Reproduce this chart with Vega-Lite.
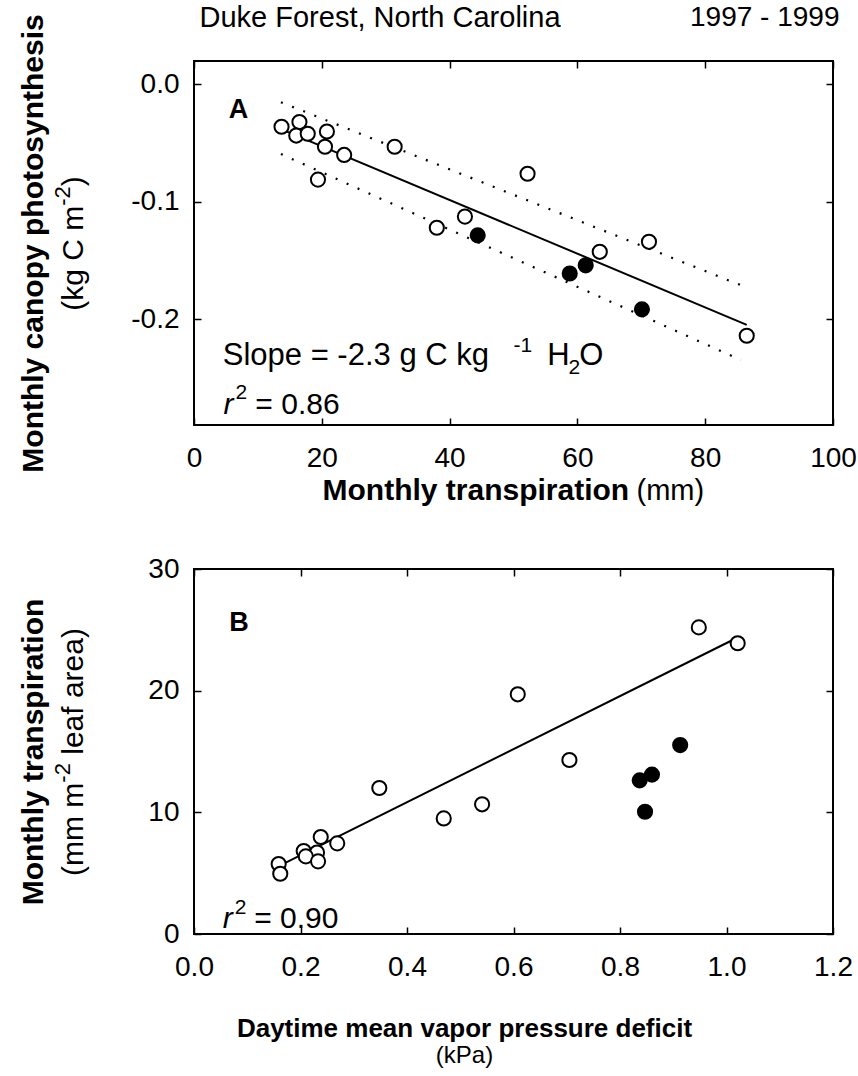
{
  "$schema": "https://vega.github.io/schema/vega-lite/v6.json",
  "padding": {"left": 16, "top": 2, "right": 2, "bottom": 2},
  "spacing": 48,
  "config": {
    "font": "Liberation Sans",
    "view": {"stroke": "black", "strokeWidth": 2},
    "axis": {
      "domain": false, "grid": false,
      "tickColor": "black", "tickWidth": 1.5, "tickSize": -7,
      "labelFontSize": 28, "labelColor": "black", "labelPadding": 22,
      "labelFlush": false, "labelOverlap": false,
      "titleColor": "black", "titleFontSize": 30, "titleFontWeight": "bold",
      "labelFont": "Liberation Sans", "titleFont": "Liberation Sans"
    },
    "text": {"font": "Liberation Sans", "color": "black"}
  },
  "datasets": {
    "aOpen": [
      {"x": 13.7, "y": -0.036}, {"x": 16.5, "y": -0.032}, {"x": 16.0, "y": -0.0435},
      {"x": 17.8, "y": -0.042}, {"x": 20.8, "y": -0.040}, {"x": 20.5, "y": -0.053},
      {"x": 23.5, "y": -0.060}, {"x": 19.4, "y": -0.081}, {"x": 31.4, "y": -0.053},
      {"x": 52.2, "y": -0.076}, {"x": 38.0, "y": -0.122}, {"x": 42.4, "y": -0.1125},
      {"x": 63.5, "y": -0.1425}, {"x": 71.2, "y": -0.134}, {"x": 86.5, "y": -0.214}
    ],
    "aFilled": [
      {"x": 44.4, "y": -0.1285}, {"x": 58.8, "y": -0.161}, {"x": 61.3, "y": -0.154}, {"x": 70.1, "y": -0.1915}
    ],
    "aFit": [{"x": 13.7, "y": -0.0382}, {"x": 86.5, "y": -0.2047}],
    "aBand": [
      {"b": "u", "x": 13.6, "y": -0.0151}, {"b": "u", "x": 85.6, "y": -0.171},
      {"b": "l", "x": 13.6, "y": -0.0592}, {"b": "l", "x": 85.6, "y": -0.2347}
    ],
    "aText": [
      {"x": 4.5, "y": -0.2393, "t": "Slope = -2.3 g C kg"},
      {"x": 55.3, "y": -0.2393, "t": "H"},
      {"x": 60.3, "y": -0.2393, "t": "O"}
    ],
    "aText2": [
      {"x": 9.6, "y": -0.281, "t": "= 0.86"}
    ],
    "aSmall": [
      {"x": 50.0, "y": -0.2275, "t": "-1"},
      {"x": 58.6, "y": -0.2464, "t": "2"},
      {"x": 6.5, "y": -0.268, "t": "2"}
    ],
    "aItal": [{"x": 4.6, "y": -0.281, "t": "r"}],
    "aBold": [{"x": 5.45, "y": -0.0287, "t": "A"}],
    "bOpen": [
      {"x": 0.948, "y": 25.2}, {"x": 1.021, "y": 23.9}, {"x": 0.608, "y": 19.7},
      {"x": 0.705, "y": 14.3}, {"x": 0.348, "y": 12.0}, {"x": 0.541, "y": 10.66},
      {"x": 0.469, "y": 9.5}, {"x": 0.269, "y": 7.45}, {"x": 0.238, "y": 7.97},
      {"x": 0.206, "y": 6.82}, {"x": 0.231, "y": 6.7}, {"x": 0.210, "y": 6.38},
      {"x": 0.233, "y": 5.97}, {"x": 0.159, "y": 5.75}, {"x": 0.162, "y": 4.95}
    ],
    "bFilled": [
      {"x": 0.913, "y": 15.53}, {"x": 0.860, "y": 13.1}, {"x": 0.837, "y": 12.63}, {"x": 0.847, "y": 10.05}
    ],
    "bFit": [{"x": 0.16, "y": 5.6}, {"x": 1.02, "y": 24.35}],
    "bText": [{"x": 0.113, "y": 0.5, "t": "= 0.90"}],
    "bSmall": [{"x": 0.0765, "y": 1.65, "t": "2"}],
    "bItal": [{"x": 0.054, "y": 0.5, "t": "r"}],
    "bBold": [{"x": 0.066, "y": 24.88, "t": "B"}]
  },
  "vconcat": [
    {
      "width": 639, "height": 364,
      "resolve": {"axis": {"x": "independent", "y": "independent"}},
      "layer": [
        {
          "data": {"name": "aBand"},
          "mark": {"type": "line", "color": "black", "strokeWidth": 2.2, "strokeDash": [2, 10]},
          "encoding": {
            "x": {"field": "x", "type": "quantitative", "scale": {"domain": [0, 100], "nice": false, "zero": false},
              "axis": {"orient": "top", "ticks": false, "labels": false, "title": "1997 - 1999", "titleX": 645, "titleY": -44, "titleAlign": "right", "titleBaseline": "middle", "titleFontWeight": "normal", "titleFontSize": 28}},
            "y": {"field": "y", "type": "quantitative", "scale": {"domain": [-0.29, 0.02], "nice": false, "zero": false}, "axis": null},
            "detail": {"field": "b", "type": "nominal"}
          }
        },
        {
          "data": {"name": "aFit"},
          "mark": {"type": "line", "color": "black", "strokeWidth": 2},
          "encoding": {
            "x": {"field": "x", "type": "quantitative", "scale": {"domain": [0, 100], "nice": false, "zero": false},
              "axis": {"orient": "top", "values": [0, 20, 40, 60, 80, 100], "labels": false, "title": "Duke Forest, North Carolina", "titleX": 5, "titleY": -44, "titleAlign": "left", "titleBaseline": "middle", "titleFontWeight": "normal", "titleFontSize": 29}},
            "y": {"field": "y", "type": "quantitative", "scale": {"domain": [-0.29, 0.02], "nice": false, "zero": false},
              "axis": {"orient": "right", "values": [0, -0.1, -0.2], "labels": false, "title": null}}
          }
        },
        {
          "data": {"name": "aOpen"},
          "mark": {"type": "point", "shape": "circle", "filled": true, "fill": "white", "stroke": "black", "strokeWidth": 2, "size": 200, "opacity": 1},
          "encoding": {
            "x": {"field": "x", "type": "quantitative", "scale": {"domain": [0, 100], "nice": false, "zero": false},
              "axis": {"orient": "bottom", "values": [0, 20, 40, 60, 80, 100], "format": "d", "labelPadding": 26, "title": "Monthly transpiration", "titleX": 128, "titleY": 74, "titleAlign": "left", "titleBaseline": "alphabetic"}},
            "y": {"field": "y", "type": "quantitative", "scale": {"domain": [-0.29, 0.02], "nice": false, "zero": false},
              "axis": {"orient": "left", "values": [0, -0.1, -0.2], "labelExpr": "replace(format(datum.value, '.1f'), '\u2212', '-')", "title": "Monthly canopy photosynthesis", "titleX": -161, "titleY": 182, "titleAngle": -90, "titleAlign": "center", "titleBaseline": "middle"}}
          }
        },
        {
          "data": {"name": "aFilled"},
          "mark": {"type": "point", "shape": "circle", "filled": true, "fill": "black", "stroke": "black", "strokeWidth": 2, "size": 200, "opacity": 1},
          "encoding": {
            "x": {"field": "x", "type": "quantitative", "scale": {"domain": [0, 100], "nice": false, "zero": false},
              "axis": {"orient": "bottom", "ticks": false, "labels": false, "title": "(mm)", "titleX": 442, "titleY": 74, "titleAlign": "left", "titleBaseline": "alphabetic", "titleFontWeight": "normal", "titleFontSize": 29}},
            "y": {"field": "y", "type": "quantitative", "scale": {"domain": [-0.29, 0.02], "nice": false, "zero": false},
              "axis": {"orient": "left", "ticks": false, "labels": false, "title": "(kg C m", "titleX": -121, "titleY": 196.8, "titleAngle": -90, "titleAlign": "center", "titleBaseline": "middle", "titleFontWeight": "normal", "titleFontSize": 30}}
          }
        },
        {
          "data": {"name": "aText"},
          "mark": {"type": "text", "align": "left", "baseline": "alphabetic", "fontSize": 31},
          "encoding": {
            "x": {"field": "x", "type": "quantitative", "scale": {"domain": [0, 100], "nice": false, "zero": false}, "axis": null},
            "y": {"field": "y", "type": "quantitative", "scale": {"domain": [-0.29, 0.02], "nice": false, "zero": false},
              "axis": {"orient": "left", "ticks": false, "labels": false, "title": "-2", "titleX": -132, "titleY": 134.5, "titleAngle": -90, "titleAlign": "center", "titleBaseline": "middle", "titleFontWeight": "normal", "titleFontSize": 22}},
            "text": {"field": "t"}
          }
        },
        {
          "data": {"name": "aText2"},
          "mark": {"type": "text", "align": "left", "baseline": "alphabetic", "fontSize": 30},
          "encoding": {
            "x": {"field": "x", "type": "quantitative", "scale": {"domain": [0, 100], "nice": false, "zero": false}, "axis": null},
            "y": {"field": "y", "type": "quantitative", "scale": {"domain": [-0.29, 0.02], "nice": false, "zero": false}, "axis": null},
            "text": {"field": "t"}
          }
        },
        {
          "data": {"name": "aSmall"},
          "mark": {"type": "text", "align": "left", "baseline": "alphabetic", "fontSize": 21},
          "encoding": {
            "x": {"field": "x", "type": "quantitative", "scale": {"domain": [0, 100], "nice": false, "zero": false}, "axis": null},
            "y": {"field": "y", "type": "quantitative", "scale": {"domain": [-0.29, 0.02], "nice": false, "zero": false},
              "axis": {"orient": "left", "ticks": false, "labels": false, "title": ")", "titleX": -121, "titleY": 119.7, "titleAngle": -90, "titleAlign": "center", "titleBaseline": "middle", "titleFontWeight": "normal", "titleFontSize": 30}},
            "text": {"field": "t"}
          }
        },
        {
          "data": {"name": "aItal"},
          "mark": {"type": "text", "align": "left", "baseline": "alphabetic", "fontSize": 30, "fontStyle": "italic"},
          "encoding": {
            "x": {"field": "x", "type": "quantitative", "scale": {"domain": [0, 100], "nice": false, "zero": false}, "axis": null},
            "y": {"field": "y", "type": "quantitative", "scale": {"domain": [-0.29, 0.02], "nice": false, "zero": false}, "axis": null},
            "text": {"field": "t"}
          }
        },
        {
          "data": {"name": "aBold"},
          "mark": {"type": "text", "align": "left", "baseline": "alphabetic", "fontSize": 27, "fontWeight": "bold"},
          "encoding": {
            "x": {"field": "x", "type": "quantitative", "scale": {"domain": [0, 100], "nice": false, "zero": false}, "axis": null},
            "y": {"field": "y", "type": "quantitative", "scale": {"domain": [-0.29, 0.02], "nice": false, "zero": false}, "axis": null},
            "text": {"field": "t"}
          }
        }
      ]
    },
    {
      "width": 639, "height": 365,
      "resolve": {"axis": {"x": "independent", "y": "independent"}},
      "layer": [
        {
          "data": {"name": "bFit"},
          "mark": {"type": "line", "color": "black", "strokeWidth": 2},
          "encoding": {
            "x": {"field": "x", "type": "quantitative", "scale": {"domain": [0, 1.2], "nice": false, "zero": false},
              "axis": {"orient": "top", "values": [0, 0.2, 0.4, 0.6, 0.8, 1.0, 1.2], "labels": false, "title": null}},
            "y": {"field": "y", "type": "quantitative", "scale": {"domain": [0, 30], "nice": false, "zero": false},
              "axis": {"orient": "right", "values": [0, 10, 20, 30], "labels": false, "title": null}}
          }
        },
        {
          "data": {"name": "bOpen"},
          "mark": {"type": "point", "shape": "circle", "filled": true, "fill": "white", "stroke": "black", "strokeWidth": 2, "size": 200, "opacity": 1},
          "encoding": {
            "x": {"field": "x", "type": "quantitative", "scale": {"domain": [0, 1.2], "nice": false, "zero": false},
              "axis": {"orient": "bottom", "values": [0, 0.2, 0.4, 0.6, 0.8, 1.0, 1.2], "format": ".1f", "labelPadding": 26, "title": "Daytime mean vapor pressure deficit", "titleX": 270, "titleY": 102, "titleAlign": "center", "titleBaseline": "alphabetic", "titleFontSize": 26}},
            "y": {"field": "y", "type": "quantitative", "scale": {"domain": [0, 30], "nice": false, "zero": false},
              "axis": {"orient": "left", "values": [0, 10, 20, 30], "format": "d", "title": "Monthly transpiration", "titleX": -161, "titleY": 182.5, "titleAngle": -90, "titleAlign": "center", "titleBaseline": "middle"}}
          }
        },
        {
          "data": {"name": "bFilled"},
          "mark": {"type": "point", "shape": "circle", "filled": true, "fill": "black", "stroke": "black", "strokeWidth": 2, "size": 200, "opacity": 1},
          "encoding": {
            "x": {"field": "x", "type": "quantitative", "scale": {"domain": [0, 1.2], "nice": false, "zero": false},
              "axis": {"orient": "bottom", "ticks": false, "labels": false, "title": "(kPa)", "titleX": 270, "titleY": 128, "titleAlign": "center", "titleBaseline": "alphabetic", "titleFontWeight": "normal", "titleFontSize": 24}},
            "y": {"field": "y", "type": "quantitative", "scale": {"domain": [0, 30], "nice": false, "zero": false},
              "axis": {"orient": "left", "ticks": false, "labels": false, "title": "(mm m", "titleX": -121, "titleY": 259.8, "titleAngle": -90, "titleAlign": "center", "titleBaseline": "middle", "titleFontWeight": "normal", "titleFontSize": 30}}
          }
        },
        {
          "data": {"name": "bText"},
          "mark": {"type": "text", "align": "left", "baseline": "alphabetic", "fontSize": 30},
          "encoding": {
            "x": {"field": "x", "type": "quantitative", "scale": {"domain": [0, 1.2], "nice": false, "zero": false}, "axis": null},
            "y": {"field": "y", "type": "quantitative", "scale": {"domain": [0, 30], "nice": false, "zero": false},
              "axis": {"orient": "left", "ticks": false, "labels": false, "title": "-2", "titleX": -132, "titleY": 203.35, "titleAngle": -90, "titleAlign": "center", "titleBaseline": "middle", "titleFontWeight": "normal", "titleFontSize": 22}},
            "text": {"field": "t"}
          }
        },
        {
          "data": {"name": "bSmall"},
          "mark": {"type": "text", "align": "left", "baseline": "alphabetic", "fontSize": 21},
          "encoding": {
            "x": {"field": "x", "type": "quantitative", "scale": {"domain": [0, 1.2], "nice": false, "zero": false}, "axis": null},
            "y": {"field": "y", "type": "quantitative", "scale": {"domain": [0, 30], "nice": false, "zero": false},
              "axis": {"orient": "left", "ticks": false, "labels": false, "title": "leaf area)", "titleX": -121, "titleY": 121.9, "titleAngle": -90, "titleAlign": "center", "titleBaseline": "middle", "titleFontWeight": "normal", "titleFontSize": 30}},
            "text": {"field": "t"}
          }
        },
        {
          "data": {"name": "bItal"},
          "mark": {"type": "text", "align": "left", "baseline": "alphabetic", "fontSize": 30, "fontStyle": "italic"},
          "encoding": {
            "x": {"field": "x", "type": "quantitative", "scale": {"domain": [0, 1.2], "nice": false, "zero": false}, "axis": null},
            "y": {"field": "y", "type": "quantitative", "scale": {"domain": [0, 30], "nice": false, "zero": false}, "axis": null},
            "text": {"field": "t"}
          }
        },
        {
          "data": {"name": "bBold"},
          "mark": {"type": "text", "align": "left", "baseline": "alphabetic", "fontSize": 27, "fontWeight": "bold"},
          "encoding": {
            "x": {"field": "x", "type": "quantitative", "scale": {"domain": [0, 1.2], "nice": false, "zero": false}, "axis": null},
            "y": {"field": "y", "type": "quantitative", "scale": {"domain": [0, 30], "nice": false, "zero": false}, "axis": null},
            "text": {"field": "t"}
          }
        }
      ]
    }
  ]
}
